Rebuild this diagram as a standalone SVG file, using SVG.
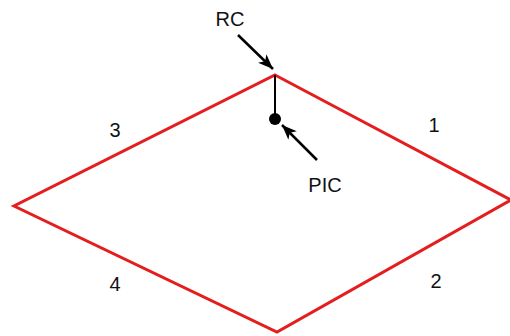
<svg xmlns="http://www.w3.org/2000/svg" width="510" height="336" viewBox="0 0 510 336">
<style>
.lbl{font-family:"Liberation Sans",Arial,sans-serif;font-size:20px;fill:#111;text-anchor:middle}
.edge{fill:none;stroke:#e41e1e;stroke-width:3;stroke-linejoin:miter}
.ar{stroke:#000;stroke-width:2.5;fill:none}
</style>
<defs>
<marker id="ah" markerWidth="15" markerHeight="12" refX="15" refY="6" orient="auto" markerUnits="userSpaceOnUse" viewBox="0 0 15 12">
<path d="M0,0 L15,6 L0,12 L4,6 Z" fill="#000"/>
</marker>
</defs>
<g id="diamond">
<polygon class="edge" points="275,75 511,200 277,332 14,206"/>
</g>
<g id="pic-node">
<line x1="275" y1="75" x2="275" y2="119" stroke="#000" stroke-width="2"/>
<circle cx="275" cy="119" r="6" fill="#000"/>
</g>
<g id="connectors">
<line class="ar" x1="238" y1="35" x2="273" y2="69" marker-end="url(#ah)"/>
<line class="ar" x1="317" y1="160" x2="282" y2="125" marker-end="url(#ah)"/>
</g>
<g id="labels">
<text class="lbl" x="230" y="26">RC</text>
<text class="lbl" x="325" y="192">PIC</text>
<text class="lbl" x="434" y="132">1</text>
<text class="lbl" x="436" y="288">2</text>
<text class="lbl" x="115" y="137">3</text>
<text class="lbl" x="115" y="291">4</text>
</g>
</svg>
